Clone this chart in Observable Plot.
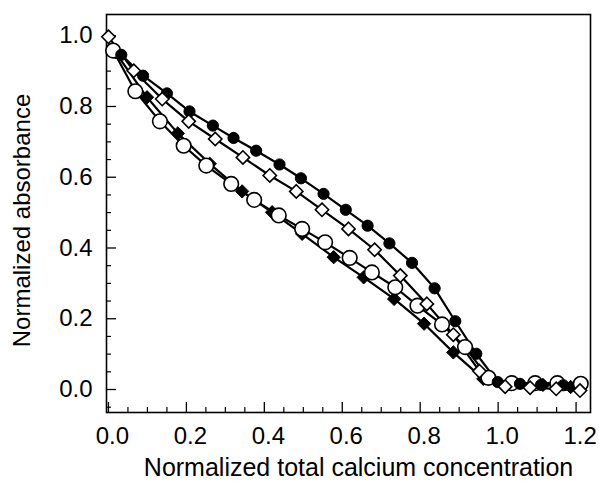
<!DOCTYPE html>
<html><head><meta charset="utf-8">
<script src="https://cdn.jsdelivr.net/npm/d3@7"></script>
<script src="https://cdn.jsdelivr.net/npm/@observablehq/plot@0.6"></script>
<style>body{margin:0;background:#fff}</style>
</head><body><div id="chart"></div>
<script>
// Filled circles (top curve)
const fcX = [0.033, 0.089, 0.150, 0.208, 0.268, 0.321, 0.379, 0.439, 0.494, 0.552, 0.609, 0.665, 0.721, 0.779, 0.837, 0.890, 0.944, 0.999, 1.056, 1.110, 1.167];
const fcY = [0.946, 0.887, 0.837, 0.786, 0.746, 0.711, 0.675, 0.636, 0.597, 0.553, 0.508, 0.463, 0.413, 0.358, 0.286, 0.193, 0.101, 0.021, 0.016, 0.013, 0.012];
// Open diamonds
const odX = [0.000, 0.065, 0.138, 0.206, 0.274, 0.345, 0.414, 0.482, 0.548, 0.616, 0.683, 0.749, 0.817, 0.885, 0.952, 1.018, 1.082, 1.149, 1.210];
const odY = [0.997, 0.901, 0.821, 0.758, 0.708, 0.656, 0.605, 0.560, 0.508, 0.454, 0.395, 0.322, 0.242, 0.155, 0.052, 0.008, 0.005, 0.002, -0.003];
// Open circles
const ocX = [0.012, 0.069, 0.132, 0.193, 0.251, 0.315, 0.374, 0.437, 0.497, 0.556, 0.619, 0.676, 0.736, 0.793, 0.856, 0.915, 0.975, 1.035, 1.095, 1.152, 1.212];
const ocY = [0.958, 0.843, 0.758, 0.689, 0.633, 0.581, 0.536, 0.492, 0.454, 0.416, 0.372, 0.331, 0.289, 0.237, 0.184, 0.120, 0.033, 0.018, 0.018, 0.018, 0.016];
// Filled diamonds
const fdX = [0.018, 0.099, 0.178, 0.260, 0.343, 0.420, 0.497, 0.578, 0.655, 0.733, 0.810, 0.885, 0.962, 1.039, 1.115, 1.186];
const fdY = [0.953, 0.826, 0.724, 0.638, 0.560, 0.501, 0.440, 0.374, 0.317, 0.256, 0.186, 0.105, 0.030, 0.016, 0.013, 0.007];

const xTickLabels = [0, 0.2, 0.4, 0.6, 0.8, 1.0, 1.2];
const yTickLabels = [0, 0.2, 0.4, 0.6, 0.8, 1.0];
const xLabel = "Normalized total calcium concentration";
const yLabel = "Normalized absorbance";

const rows = (xs, ys, s) => xs.map((v, i) => ({x: v, y: ys[i], s}));
const fc = rows(fcX, fcY, "fc"), od = rows(odX, odY, "od"), oc = rows(ocX, ocY, "oc"), fd = rows(fdX, fdY, "fd");

const W = 599, H = 481, mL = 106, mR = 9, mT = 14, mB = 69;
const xDom = [-0.005, 1.237], yDom = [-0.065, 1.06];
const yPerPx = (yDom[1] - yDom[0]) / (H - mT - mB);
const xPerPx = (xDom[1] - xDom[0]) / (W - mL - mR);

const xMinor = d3.range(0, 1.2001, 0.05).map(v => +v.toFixed(2)).filter(v => !xTickLabels.some(t => Math.abs(t - v) < 1e-6));
const yMinor = d3.range(-0.05, 1.0001, 0.05).map(v => +v.toFixed(2)).filter(v => !yTickLabels.some(t => Math.abs(t - v) < 1e-6));

const font = "Liberation Sans, Arial, Helvetica, sans-serif";
const FS = 24;
const chart = Plot.plot({
  width: W, height: H,
  marginLeft: mL, marginRight: mR, marginTop: mT, marginBottom: mB,
  style: {fontFamily: font, fontSize: FS + "px", color: "black", background: "white"},
  x: {domain: xDom},
  y: {domain: yDom},
  marks: [
    Plot.axisX({ticks: xTickLabels, tickSize: 0, tickPadding: 14, dx: 4, tickFormat: d3.format(".1f"), fontSize: FS, label: null}),
    Plot.axisY({ticks: yTickLabels, tickSize: 0, tickPadding: 14, tickFormat: d3.format(".1f"), fontSize: FS, label: null}),
    Plot.text([xLabel], {text: d => d, frameAnchor: "bottom", dy: 55, dx: 10, fontSize: 25, lineAnchor: "middle"}),
    Plot.text([yLabel], {text: d => d, x: () => xDom[0] - 84 * xPerPx, y: () => (yDom[0] + yDom[1]) / 2 - 7 * yPerPx,
      rotate: -90, fontSize: FS, lineAnchor: "middle", textAnchor: "middle"}),
    // inward ticks
    Plot.ruleX(xTickLabels, {x: d => d, y1: yDom[0], y2: yDom[0] + 10 * yPerPx, stroke: "black", strokeWidth: 1.3}),
    Plot.ruleX(xMinor, {x: d => d, y1: yDom[0], y2: yDom[0] + 5 * yPerPx, stroke: "black", strokeWidth: 1.2}),
    Plot.ruleY(yTickLabels, {y: d => d, x1: xDom[0], x2: xDom[0] + 10 * xPerPx, stroke: "black", strokeWidth: 1.3}),
    Plot.ruleY(yMinor, {y: d => d, x1: xDom[0], x2: xDom[0] + 5 * xPerPx, stroke: "black", strokeWidth: 1.2}),
    Plot.frame({stroke: "black", strokeWidth: 1.6}),
    // lines
    Plot.line(fc, {x: "x", y: "y", stroke: "black", strokeWidth: 2.2}),
    Plot.line(od, {x: "x", y: "y", stroke: "black", strokeWidth: 2.2}),
    Plot.line(oc, {x: "x", y: "y", stroke: "black", strokeWidth: 2.2}),
    Plot.line(fd, {x: "x", y: "y", stroke: "black", strokeWidth: 2.2}),
    // markers
    Plot.dot(fd, {x: "x", y: "y", symbol: "diamond2", r: 6, fill: "black", stroke: "black", strokeWidth: 1}),
    Plot.dot(oc, {x: "x", y: "y", symbol: "circle", r: 7.3, fill: "white", stroke: "black", strokeWidth: 1.6}),
    Plot.dot(fc, {x: "x", y: "y", symbol: "circle", r: 5.6, fill: "black", stroke: "black", strokeWidth: 1}),
    Plot.dot(od, {x: "x", y: "y", symbol: "diamond2", r: 6, fill: "white", stroke: "black", strokeWidth: 1.6})
  ]
});
document.getElementById("chart").appendChild(chart);
</script>
</body></html>
